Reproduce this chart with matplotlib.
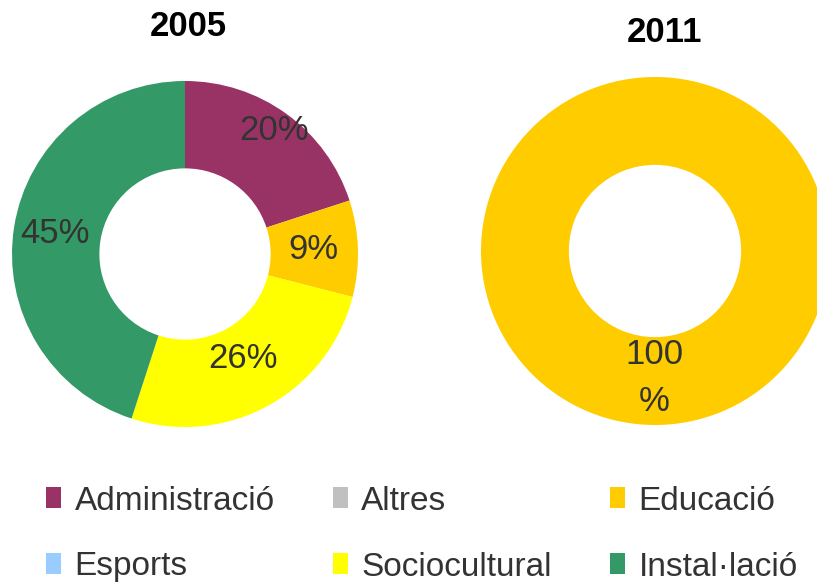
import matplotlib

matplotlib.use("Agg")
import matplotlib.pyplot as plt
import numpy as np
from matplotlib.patches import Patch

plt.rcParams["font.family"] = ["Liberation Sans", "DejaVu Sans"]

# legend categories (row by row, 3 per row), colours per category
CATEGORIES = ["Administració", "Altres", "Educació", "Esports", "Sociocultural", "Instal·lació"]
COLORS = {
    "Administració": "#993366",
    "Altres": "#C0C0C0",
    "Educació": "#FFCC00",
    "Esports": "#99CCFF",
    "Sociocultural": "#FFFF00",
    "Instal·lació": "#339966",
}

# 2005 donut, clockwise from 12 o'clock
CATS_2005 = ["Administració", "Educació", "Sociocultural", "Instal·lació"]
VALS_2005 = [20, 9, 26, 45]
# 2011 donut
CATS_2011 = ["Educació"]
VALS_2011 = [100]

TEXT = "#333333"
W, H = 817, 583

fig = plt.figure(figsize=(W / 100, H / 100), dpi=100)
ax = fig.add_axes([0, 0, 1, 1])


def donut(vals, cats, center, radius, label_r):
    ax.pie(vals, colors=[COLORS[c] for c in cats], startangle=90,
           counterclock=False, center=center, radius=radius,
           wedgeprops=dict(width=radius * 0.505, linewidth=0), frame=True)
    total = sum(vals)
    start = 90.0
    for v, lr in zip(vals, label_r):
        mid = np.deg2rad(start - 360.0 * v / total / 2)
        start -= 360.0 * v / total
        x = center[0] + lr * radius * np.cos(mid)
        y = center[1] + lr * radius * np.sin(mid)
        txt = f"{v}%" if v < 100 else f"{v}\n%"
        ax.text(x, y, txt, ha="center", va="center", fontsize=25, color=TEXT,
                linespacing=1.55)


donut(VALS_2005, CATS_2005, (185, 329), 173, [0.88, 0.74, 0.69, 0.76])
donut(VALS_2011, CATS_2011, (655, 332), 174, [0.0])
# the 100% label sits on the bottom of the ring
ax.texts[-1].set_position((654, H - 378))

ax.set_xlim(0, W)
ax.set_ylim(0, H)
ax.set_aspect("equal")
ax.axis("off")

ax.text(188, H - 26, "2005", ha="center", va="center", fontsize=25,
        fontweight="bold", color="black")
ax.text(665, H - 33, "2011", ha="center", va="center", fontsize=25,
        fontweight="bold", color="black")

# matplotlib fills legend columns first; reorder so rows read left to right
ncol = 3
order = [CATEGORIES[r * ncol + c] for c in range(ncol) for r in range(len(CATEGORIES) // ncol)]
handles = [Patch(facecolor=COLORS[c], edgecolor="none", label=c) for c in order]
fig.legend(handles=handles, loc="center", bbox_to_anchor=(422 / W, 1 - 534 / H),
           ncol=ncol, frameon=False, fontsize=24, labelcolor=TEXT,
           handlelength=0.45, handleheight=0.6, handletextpad=0.4,
           columnspacing=1.75, labelspacing=1.05, borderpad=0)

fig.savefig("out.png", dpi=100)
